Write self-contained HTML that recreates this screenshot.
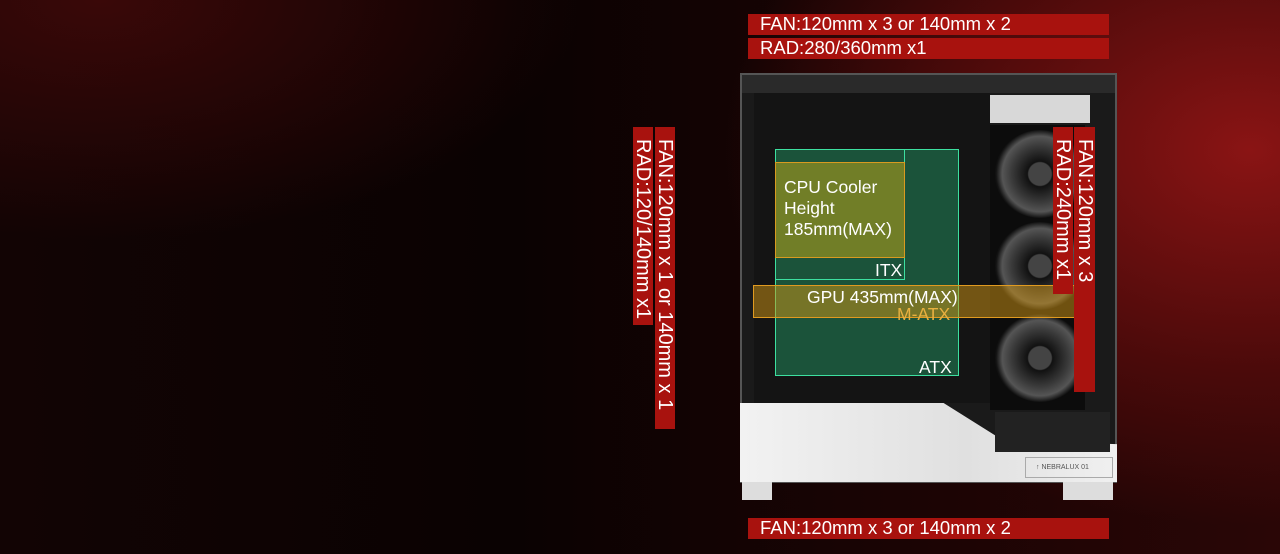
<!DOCTYPE html>
<html><head><style>
*{margin:0;padding:0;box-sizing:border-box}
body{width:1280px;height:554px;overflow:hidden;position:relative;font-family:"Liberation Sans",sans-serif;
background:radial-gradient(ellipse 700px 500px at 1250px 150px,#8a1414 0%,#4a0a0a 45%,transparent 75%),
radial-gradient(ellipse 600px 300px at 100px 0px,#3a0808 0%,transparent 80%),
linear-gradient(90deg,#120404 0%,#0a0202 40%,#1a0404 70%,#2a0606 100%);}
.a{position:absolute}
.bar{position:absolute;background:#a8120e;color:#fff;font-size:18.5px;line-height:20px;padding-left:12px;white-space:nowrap}
.vbar{position:absolute;background:#a8120e;color:#fff;font-size:20px;writing-mode:vertical-rl;line-height:20px;padding-top:12px;white-space:nowrap}
</style></head><body>
<div class="bar" style="left:748px;top:14px;width:361px;height:21px">FAN:120mm x 3 or 140mm x 2</div>
<div class="bar" style="left:748px;top:38px;width:361px;height:21px">RAD:280/360mm x1</div>
<div class="bar" style="left:748px;top:518px;width:361px;height:21px">FAN:120mm x 3 or 140mm x 2</div>
<div class="vbar" style="left:633px;top:127px;width:20px;height:198px">RAD:120/140mm x1</div>
<div class="vbar" style="left:655px;top:127px;width:20px;height:302px">FAN:120mm x 1 or 140mm x 1</div>

<!-- case -->
<div class="a" style="left:740px;top:73px;width:377px;height:410px;background:#1a1a1a;border:2px solid #555"></div>
<div class="a" style="left:742px;top:75px;width:373px;height:18px;background:#2a2a2a"></div>
<div class="a" style="left:754px;top:93px;width:236px;height:310px;background:#141414"></div>
<div class="a" style="left:990px;top:95px;width:100px;height:28px;background:#d8d8d8"></div>
<div class="a" style="left:990px;top:125px;width:95px;height:285px;background:#0c0c0c"></div>
<div class="a" style="left:995px;top:130px;width:90px;height:88px;border-radius:50%;background:radial-gradient(circle,#444 0 18%,#111 20%,#3a3a3a 45%,#555 60%,#111 70%)"></div>
<div class="a" style="left:995px;top:222px;width:90px;height:88px;border-radius:50%;background:radial-gradient(circle,#444 0 18%,#111 20%,#3a3a3a 45%,#555 60%,#111 70%)"></div>
<div class="a" style="left:995px;top:314px;width:90px;height:88px;border-radius:50%;background:radial-gradient(circle,#444 0 18%,#111 20%,#3a3a3a 45%,#555 60%,#111 70%)"></div>
<div class="a" style="left:740px;top:403px;width:377px;height:79px;background:linear-gradient(90deg,#f2f2f2,#e0e0e0 60%,#f0f0f0);clip-path:polygon(0 0,54% 0,70% 48%,100% 52%,100% 100%,0 100%)"></div>
<div class="a" style="left:995px;top:412px;width:115px;height:40px;background:#222"></div>
<div class="a" style="left:1025px;top:457px;width:88px;height:21px;border:1px solid #aaa;font-size:7px;color:#555;line-height:19px;padding-left:10px">↑ NEBRALUX 01</div>
<div class="a" style="left:742px;top:482px;width:30px;height:18px;background:#ddd"></div>
<div class="a" style="left:1063px;top:482px;width:50px;height:18px;background:#ddd"></div>

<!-- overlays -->
<div class="a" style="left:775px;top:149px;width:184px;height:227px;background:rgba(40,200,130,.35);border:1px solid #3de0a0"></div>
<div class="a" style="left:775px;top:149px;width:130px;height:131px;border:1px solid #3de0a0"></div>
<div class="a" style="left:775px;top:162px;width:130px;height:96px;background:rgba(200,170,20,.5);border:1px solid #d99a20"></div>
<div class="a" style="left:753px;top:285px;width:325px;height:33px;background:rgba(210,150,20,.5);border:1px solid #e09a20"></div>
<div class="a" style="left:784px;top:177px;color:#fff;font-size:17.5px;line-height:21px">CPU Cooler<br>Height<br>185mm(MAX)</div>
<div class="a" style="left:875px;top:260px;color:#fff;font-size:17.5px">ITX</div>
<div class="a" style="left:807px;top:287px;color:#fff;font-size:17.5px">GPU 435mm(MAX)</div>
<div class="a" style="left:897px;top:304px;color:#e8b040;font-size:17.5px">M-ATX</div>
<div class="a" style="left:919px;top:357px;color:#fff;font-size:17.5px">ATX</div>
<div class="vbar" style="left:1053px;top:127px;width:20px;height:167px">RAD:240mm x1</div>
<div class="vbar" style="left:1074px;top:127px;width:21px;height:265px">FAN:120mm x 3</div>
</body></html>
